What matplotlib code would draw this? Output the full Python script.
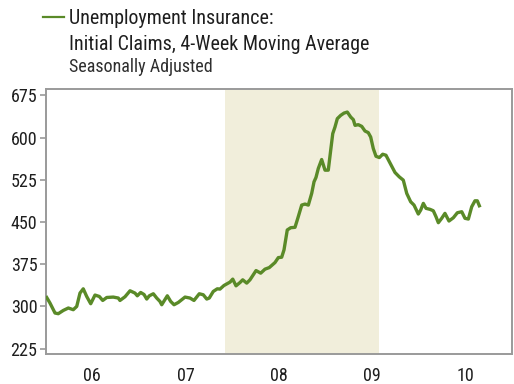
import matplotlib
matplotlib.use("Agg")
import matplotlib.pyplot as plt
from matplotlib.lines import Line2D

# decimal-year positions and 4-week moving average of initial claims (thousands)
years = [2006.011, 2006.046, 2006.100, 2006.135, 2006.189, 2006.243, 2006.296, 2006.333,
         2006.368, 2006.403, 2006.440, 2006.483, 2006.529, 2006.575, 2006.612, 2006.655,
         2006.725, 2006.779, 2006.797, 2006.851, 2006.905, 2006.958, 2006.983, 2007.019,
         2007.055, 2007.084, 2007.112, 2007.155, 2007.191, 2007.226, 2007.245, 2007.305,
         2007.341, 2007.377, 2007.423, 2007.495, 2007.548, 2007.591, 2007.648, 2007.691,
         2007.728, 2007.755, 2007.798, 2007.841, 2007.870, 2007.913, 2007.978, 2008.007,
         2008.042, 2008.085, 2008.114, 2008.157, 2008.192, 2008.257, 2008.307, 2008.353,
         2008.399, 2008.460, 2008.496, 2008.532, 2008.557, 2008.592, 2008.629, 2008.675,
         2008.710, 2008.747, 2008.782, 2008.818, 2008.854, 2008.879, 2008.900, 2008.925,
         2008.961, 2008.997, 2009.032, 2009.058, 2009.080, 2009.104, 2009.129, 2009.165,
         2009.201, 2009.236, 2009.273, 2009.301, 2009.319, 2009.354, 2009.391, 2009.426,
         2009.461, 2009.487, 2009.515, 2009.544, 2009.580, 2009.616, 2009.651, 2009.694,
         2009.748, 2009.794, 2009.837, 2009.874, 2009.916, 2009.952, 2009.998, 2010.024,
         2010.052, 2010.081, 2010.124, 2010.159, 2010.188, 2010.213, 2010.249, 2010.284,
         2010.327, 2010.374, 2010.417, 2010.464, 2010.499, 2010.535, 2010.571, 2010.606,
         2010.631, 2010.653]
claims = [315.9, 306.0, 288.3, 287.1, 292.9, 297.2, 294.2, 300.0,
          323.7, 331.3, 317.7, 304.8, 320.2, 317.7, 310.6, 315.9,
          316.6, 314.9, 310.6, 317.2, 327.8, 323.7, 318.9, 324.8,
          321.2, 313.1, 318.9, 322.5, 314.9, 308.9, 303.0, 318.9,
          308.9, 303.0, 307.1, 316.6, 314.9, 310.6, 322.5, 320.7,
          313.1, 314.9, 326.6, 331.3, 330.8, 337.2, 343.2, 348.5,
          336.6, 342.5, 347.3, 341.4, 347.3, 363.7, 359.1, 366.2,
          369.0, 377.9, 386.7, 387.4, 400.4, 435.8, 439.8, 440.5,
          459.3, 480.0, 481.8, 480.0, 500.7, 521.3, 529.0, 545.0,
          560.9, 542.0, 542.0, 577.4, 606.9, 618.6, 633.5, 639.3,
          643.4, 645.2, 636.3, 631.7, 621.6, 622.8, 619.8, 611.5,
          608.7, 600.9, 580.4, 566.7, 564.4, 570.3, 568.5, 554.9,
          537.9, 530.1, 524.3, 500.7, 485.9, 480.0, 464.1, 471.2,
          483.0, 474.2, 472.4, 469.9, 459.3, 448.7, 456.5, 465.3,
          451.7, 457.5, 466.4, 468.2, 456.5, 455.2, 477.0, 487.6,
          487.6, 478.8]

recession = (2007.92, 2009.58)
yticks = [225, 300, 375, 450, 525, 600, 675]
xtick_pos = [2006.5, 2007.5, 2008.5, 2009.5, 2010.5]
xtick_labels = ["06", "07", "08", "09", "10"]

FONT = ["Liberation Sans Narrow", "Roboto Condensed", "DejaVu Sans"]
plt.rcParams["font.family"] = FONT

GREEN = "#5a8a28"
TXT = "#1e1e1e"

fig = plt.figure(figsize=(5.14, 3.84), dpi=100)
ax = fig.add_axes([0.0889, 0.0781, 0.9066, 0.6899])

ax.axvspan(recession[0], recession[1], ymin=0, ymax=1, color="#f1eedb", lw=0, zorder=0)
ax.plot(years, claims, color=GREEN, lw=2.4, zorder=3, solid_joinstyle="round")

ax.set_xlim(2006.0, 2011.0)
ax.set_ylim(215.5, 686)
ax.set_yticks(yticks)
ax.set_yticklabels([str(v) for v in yticks])
ax.set_xticks(xtick_pos)
ax.set_xticklabels(xtick_labels)

for s in ax.spines.values():
    s.set_color("#9a9a9a")
    s.set_linewidth(1.4)

ax.tick_params(axis="y", length=4, width=1.2, color="#9a9a9a", pad=2,
               labelsize=13, labelcolor=TXT)
ax.tick_params(axis="x", length=0, pad=9, labelsize=13, labelcolor=TXT)

# legend header
fig.add_artist(Line2D([43 / 514, 64 / 514], [1 - 17 / 384, 1 - 17 / 384],
                      color=GREEN, lw=1.6, transform=fig.transFigure))
fig.text(69 / 514, 1 - 18 / 384, "Unemployment Insurance:", fontsize=14.4,
         color=TXT, va="center", ha="left")
fig.text(69 / 514, 1 - 44 / 384, "Initial Claims, 4-Week Moving Average", fontsize=14.4,
         color=TXT, va="center", ha="left")
fig.text(69 / 514, 1 - 67 / 384, "Seasonally Adjusted", fontsize=13,
         color="#2e2e2e", va="center", ha="left")

fig.savefig("out.png", dpi=100)
